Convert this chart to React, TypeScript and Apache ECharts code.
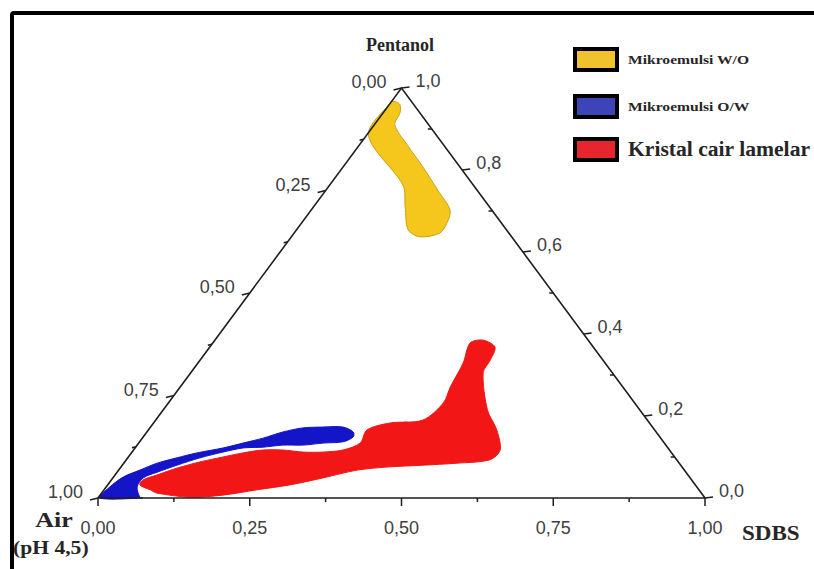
import React, { useEffect, useRef } from "react";
import * as echarts from "echarts";

// Axis ticks and labels
const bottomTicks = [0, 0.25, 0.5, 0.75, 1];
const bottomLabels = ["0,00", "0,25", "0,50", "0,75", "1,00"];
const bottomMinor = [0.125, 0.375, 0.625, 0.875];
const leftTicks = [0, 0.25, 0.5, 0.75, 1]; // Air fraction
const leftLabels = ["0,00", "0,25", "0,50", "0,75", "1,00"];
const leftMinor = [0.125, 0.375, 0.625, 0.875];
const rightTicks = [0, 0.2, 0.4, 0.6, 0.8, 1.0]; // Pentanol fraction
const rightLabels = ["0,0", "0,2", "0,4", "0,6", "0,8", "1,0"];
const rightMinor = [0.1, 0.3, 0.5, 0.7, 0.9];

// Regions as [SDBS, Pentanol] fractions (Air = 1 - SDBS - Pentanol)
const woRegion = [
  [0.0, 0.965], [0.006, 0.967], [0.018, 0.959], [0.028, 0.939], [0.034, 0.91],
  [0.08, 0.86], [0.132, 0.807], [0.185, 0.75], [0.229, 0.702], [0.24, 0.668],
  [0.24, 0.646], [0.212, 0.637], [0.184, 0.654], [0.151, 0.71], [0.121, 0.763],
  [0.003, 0.885],
];
const owRegion = [
  [0.003, 0.0], [0.006, 0.027], [0.016, 0.051], [0.035, 0.068], [0.055, 0.085],
  [0.081, 0.098], [0.108, 0.11], [0.145, 0.122], [0.172, 0.134], [0.199, 0.146],
  [0.224, 0.161], [0.252, 0.171], [0.284, 0.173], [0.317, 0.173], [0.34, 0.161],
  [0.346, 0.149], [0.335, 0.137], [0.304, 0.134], [0.273, 0.129], [0.24, 0.129],
  [0.21, 0.124], [0.178, 0.122], [0.15, 0.112], [0.119, 0.098], [0.09, 0.08],
  [0.066, 0.063], [0.05, 0.049], [0.051, 0.027], [0.068, 0.002], [0.074, 0.0],
];
const lamelarRegion = [
  [0.053, 0.032], [0.076, 0.02], [0.091, 0.012], [0.151, 0.002], [0.202, 0.007],
  [0.252, 0.02], [0.3, 0.032], [0.346, 0.049], [0.393, 0.068], [0.443, 0.076],
  [0.495, 0.08], [0.549, 0.085], [0.599, 0.093], [0.604, 0.117], [0.574, 0.166],
  [0.534, 0.215], [0.482, 0.305], [0.478, 0.337], [0.47, 0.368], [0.442, 0.385],
  [0.424, 0.378], [0.437, 0.329], [0.445, 0.271], [0.453, 0.232], [0.44, 0.19],
  [0.39, 0.183], [0.36, 0.166], [0.365, 0.134], [0.345, 0.117], [0.315, 0.112],
  [0.282, 0.112], [0.246, 0.117], [0.213, 0.117], [0.184, 0.11], [0.156, 0.1],
  [0.124, 0.088], [0.094, 0.073], [0.069, 0.056], [0.052, 0.044],
];

const legendNames = ["Mikroemulsi W/O", "Mikroemulsi O/W", "Kristal cair lamelar"];

const toXY = (s: number, p: number) => [s + p / 2, p];

const TICK_FONT = '"Liberation Sans", Arial, sans-serif';
const SERIF = '"Liberation Serif", "Times New Roman", serif';
const AXIS_COLOR = "#1e1e1e";

function regionSeries(name: string, pts: number[][], fill: string, stroke: string) {
  return {
    type: "custom",
    name,
    coordinateSystem: "cartesian2d",
    clip: false,
    silent: true,
    data: [[0, 0]],
    renderItem: (_params: any, api: any) => {
      const points = pts.map((q) => api.coord(toXY(q[0], q[1])));
      return {
        type: "polygon",
        shape: { points, smooth: 0.3 },
        style: { fill, stroke, lineWidth: 1 },
      };
    },
  };
}

function axisRenderItem(_params: any, api: any) {
  const c = (s: number, p: number) => api.coord(toXY(s, p));
  const children: any[] = [];
  const A = c(0, 0), B = c(1, 0), C = c(0, 1);
  children.push({
    type: "polygon",
    shape: { points: [A, B, C] },
    style: { fill: "none", stroke: AXIS_COLOR, lineWidth: 1.6 },
  });
  const line = (p1: number[], p2: number[], w = 1.5) => ({
    type: "line",
    shape: { x1: p1[0], y1: p1[1], x2: p2[0], y2: p2[1] },
    style: { stroke: AXIS_COLOR, lineWidth: w },
  });
  const txt = (x: number, y: number, text: string, align: string) => ({
    type: "text",
    x,
    y,
    style: {
      text,
      fill: "#404040",
      fontSize: 18,
      fontFamily: TICK_FONT,
      align,
      verticalAlign: "middle",
    },
  });
  bottomTicks.forEach((v, i) => {
    const pt = c(v, 0);
    children.push(line(pt, [pt[0], pt[1] + 8]));
    children.push(txt(pt[0], pt[1] + 30, bottomLabels[i], "center"));
  });
  bottomMinor.forEach((v) => {
    const pt = c(v, 0);
    children.push(line(pt, [pt[0], pt[1] + 4]));
  });
  leftTicks.forEach((a, i) => {
    const pt = c(0, 1 - a);
    children.push(line(pt, [pt[0] - 8, pt[1] + 2]));
    children.push(txt(pt[0] - 15, pt[1] - 6, leftLabels[i], "right"));
  });
  leftMinor.forEach((a) => {
    const pt = c(0, 1 - a);
    children.push(line(pt, [pt[0] - 4, pt[1] + 1]));
  });
  rightTicks.forEach((p, i) => {
    const pt = c(1 - p, p);
    children.push(line(pt, [pt[0] + 8, pt[1] - 1]));
    children.push(txt(pt[0] + 14, pt[1] - 7, rightLabels[i], "left"));
  });
  rightMinor.forEach((p) => {
    const pt = c(1 - p, p);
    children.push(line(pt, [pt[0] - 4, pt[1]]));
  });
  return { type: "group", children };
}

function serifText(text: string, x: number, y: number, size: number, scaleX: number, align: string) {
  return {
    type: "text",
    x,
    y,
    scaleX,
    style: {
      text,
      fill: "#262626",
      fontSize: size,
      fontWeight: "bold",
      fontFamily: SERIF,
      align,
      verticalAlign: "middle",
    },
  };
}

export default function App() {
  const ref = useRef<HTMLDivElement>(null);
  useEffect(() => {
    if (!ref.current) return;
    const chart = echarts.init(ref.current, null, { renderer: "svg" });
    const legendColors = ["#f2c12e", "#3c44b8", "#e6262c"];
    const legendY = [49, 96, 139];
    const legendFont = [
      { size: 13, scale: 1.2 },
      { size: 13, scale: 1.2 },
      { size: 21, scale: 1.03 },
    ];
    const graphic: any[] = [
      {
        type: "rect",
        z: 0,
        shape: { x: 12, y: 13, width: 900, height: 700, r: 2 },
        style: { fill: "none", stroke: "#000", lineWidth: 4 },
      },
      serifText("Pentanol", 400, 45, 18, 1.0, "center"),
      serifText("Air", 54, 520, 20, 1.3, "center"),
      serifText("(pH 4,5)", 13, 548, 18, 1.2, "left"),
      serifText("SDBS", 742, 534, 20, 1.15, "left"),
    ];
    legendNames.forEach((name, i) => {
      graphic.push({
        type: "rect",
        shape: { x: 575, y: legendY[i], width: 42, height: 21 },
        style: { fill: legendColors[i], stroke: "#000", lineWidth: 4 },
      });
      graphic.push(serifText(name, 628, legendY[i] + 10, legendFont[i].size, legendFont[i].scale, "left"));
    });

    chart.setOption({
      animation: false,
      backgroundColor: "#ffffff",
      grid: { left: 98, right: 109, top: 88, bottom: 71 },
      xAxis: { type: "value", min: 0, max: 1, show: false },
      yAxis: { type: "value", min: 0, max: 1, show: false },
      series: [
        regionSeries(legendNames[0], woRegion, "#f5c61b", "#c9a21a"),
        regionSeries(legendNames[1], owRegion, "#1414c8", "#1414c8"),
        regionSeries(legendNames[2], lamelarRegion, "#f21616", "#f21616"),
        {
          type: "custom",
          name: "axes",
          coordinateSystem: "cartesian2d",
          clip: false,
          silent: true,
          z: 5,
          data: [[0, 0]],
          renderItem: axisRenderItem,
        },
      ],
      graphic,
    });
    return () => chart.dispose();
  }, []);
  return (
    <div
      ref={ref}
      style={{ position: "absolute", left: 0, top: 0, width: 814, height: 569, background: "#fff" }}
    />
  );
}
